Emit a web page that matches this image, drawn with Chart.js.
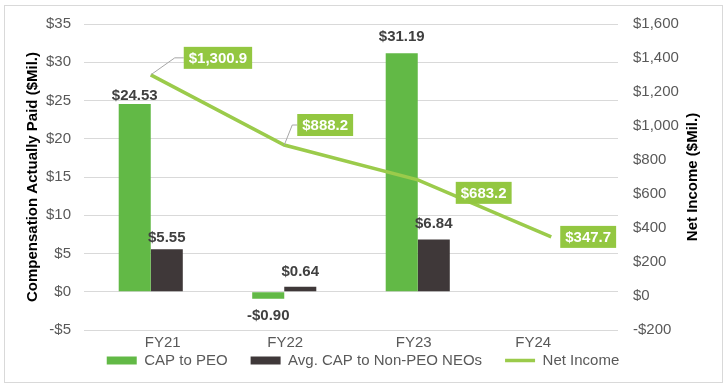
<!DOCTYPE html>
<html>
<head>
<meta charset="utf-8">
<script src="https://cdn.jsdelivr.net/npm/chart.js@4.4.0/dist/chart.umd.min.js"></script>
<style>
  html, body { margin: 0; padding: 0; background: #fff; }
  #wrap { position: relative; width: 726px; height: 385px; }
  #frame { position: absolute; left: 4px; top: 5px; width: 717px; height: 376px; border: 1px solid #d9d9d9; pointer-events: none; }
</style>
</head>
<body>
<div id="wrap">
  <canvas id="chart" width="726" height="385"></canvas>
  <div id="frame"></div>
</div>
<script>
const years = ['FY21', 'FY22', 'FY23', 'FY24'];
const capPeo = [24.53, -0.90, 31.19, null];
const capNeo = [5.55, 0.64, 6.84, null];
const netIncome = [1300.9, 888.2, 683.2, 347.7];

// where the net income boxes sit relative to their point
const boxOffsets = [
  { dx: 33, dy: -17, leader: 24 },
  { dx: 13, dy: -20, leader: 8 },
  { dx: 38, dy: 13 },
  { dx: 9, dy: 0 }
];
// bar label distance from bar end, per series
const barLabelDy = [[-8, 17, -16], [-11, -15, -16]];
// category labels in the original are not quite centred on their groups
const yearShift = [12, 1, -4, -18];

const grey = '#595959';
const legendGap = 23;
const font = '"Liberation Sans", Arial, sans-serif';
Chart.defaults.font.family = font;
Chart.defaults.font.size = 15;
Chart.defaults.color = grey;

const money = v => (v < 0 ? '-$' : '$') + Math.abs(v).toLocaleString('en-US');

const labelPlugin = {
  id: 'valueLabels',
  beforeLayout(chart) {
    // keep the legend short even with wide item spacing
    const lg = chart.legend;
    if (lg && !lg._fixed) {
      const fit = lg.fit;
      lg.fit = function () { fit.call(this); this.height = 33; };
      lg._fixed = true;
    }
  },
  afterLayout(chart) {
    const lg = chart.legend;
    lg.top = 361 - legendGap - 8;
    lg.bottom = chart.height;
  },
  afterDraw(chart) {
    const ctx = chart.ctx;
    const area = chart.chartArea;
    const x = chart.scales.x;
    ctx.save();
    ctx.textAlign = 'center';
    ctx.textBaseline = 'middle';
    ctx.font = '15px ' + font;
    ctx.fillStyle = grey;
    years.forEach((y, i) => {
      ctx.fillText(y, x.getPixelForValue(i) + yearShift[i], area.bottom + 13);
    });
    ctx.font = 'bold 15px ' + font;
    ctx.fillStyle = '#000';
    ctx.translate(693, (area.top + area.bottom) / 2);
    ctx.rotate(-Math.PI / 2);
    ctx.fillText('Net Income ($Mil.)', 0, 0);
    ctx.restore();
  },
  afterDatasetsDraw(chart) {
    const ctx = chart.ctx;
    ctx.save();
    ctx.font = 'bold 15px ' + font;
    ctx.textAlign = 'center';
    ctx.textBaseline = 'middle';

    [capPeo, capNeo].forEach((vals, i) => {
      chart.getDatasetMeta(i).data.forEach((bar, j) => {
        const v = vals[j];
        if (v == null) return;
        const txt = (v < 0 ? '-$' : '$') + Math.abs(v).toFixed(2);
        ctx.fillStyle = '#404040';
        ctx.fillText(txt, bar.x, bar.y + barLabelDy[i][j]);
      });
    });

    chart.getDatasetMeta(2).data.forEach((pt, j) => {
      const o = boxOffsets[j];
      const txt = '$' + netIncome[j].toLocaleString('en-US', { minimumFractionDigits: 1, maximumFractionDigits: 1 });
      const w = ctx.measureText(txt).width + 10, h = 22;
      const bx = pt.x + o.dx, cy = pt.y + o.dy;
      if (o.leader) {
        ctx.strokeStyle = '#a6a6a6';
        ctx.lineWidth = 1;
        ctx.beginPath();
        ctx.moveTo(pt.x, pt.y);
        ctx.lineTo(pt.x + o.leader, cy);
        ctx.lineTo(bx, cy);
        ctx.stroke();
      }
      ctx.fillStyle = '#93c741';
      ctx.fillRect(bx, cy - h / 2, w, h);
      ctx.fillStyle = '#fff';
      ctx.fillText(txt, bx + w / 2, cy + 1);
    });
    ctx.restore();
  }
};

new Chart(document.getElementById('chart'), {
  data: {
    labels: years,
    datasets: [
      { type: 'bar', label: 'CAP to PEO', data: capPeo, backgroundColor: '#62b946', yAxisID: 'y', order: 1, pointStyle: 'rect', borderWidth: 0 },
      { type: 'bar', label: 'Avg. CAP to Non-PEO NEOs', data: capNeo, backgroundColor: '#3f3839', yAxisID: 'y', order: 1, pointStyle: 'rect', borderWidth: 0 },
      { type: 'line', label: 'Net Income', data: netIncome, borderColor: '#9bcb4b', backgroundColor: '#9bcb4b', borderWidth: 3.5, pointRadius: 0, pointStyle: 'line', yAxisID: 'y1', order: 0 }
    ]
  },
  options: {
    responsive: false,
    animation: false,
    layout: { padding: { top: 21, bottom: 0 } },
    datasets: { bar: { categoryPercentage: 0.48, barPercentage: 1 } },
    plugins: {
      legend: {
        position: 'bottom',
        labels: {
          usePointStyle: true, pointStyleWidth: 30, boxHeight: 8, padding: legendGap, color: grey,
          sort: (a, b) => a.datasetIndex - b.datasetIndex
        }
      },
      tooltip: { enabled: false }
    },
    scales: {
      x: {
        grid: { display: false, drawTicks: false },
        border: { display: false },
        ticks: { display: false },
        afterFit(s) { s.height = 22; }
      },
      y: {
        position: 'left',
        min: -5, max: 35,
        ticks: { stepSize: 5, padding: 13, callback: money },
        grid: { color: '#d9d9d9', drawTicks: false },
        border: { display: false },
        title: { display: true, text: 'Compensation Actually Paid ($Mil.)', color: '#000', font: { weight: 'bold', size: 15 }, padding: { top: 24 } },
        afterFit(s) { s.width = 84; }
      },
      y1: {
        position: 'right',
        min: -200, max: 1600,
        ticks: { stepSize: 200, padding: 15, callback: money },
        grid: { display: false, drawTicks: false },
        border: { display: false },
        afterFit(s) { s.width = 108; }
      }
    }
  },
  plugins: [labelPlugin]
});
</script>
</body>
</html>
